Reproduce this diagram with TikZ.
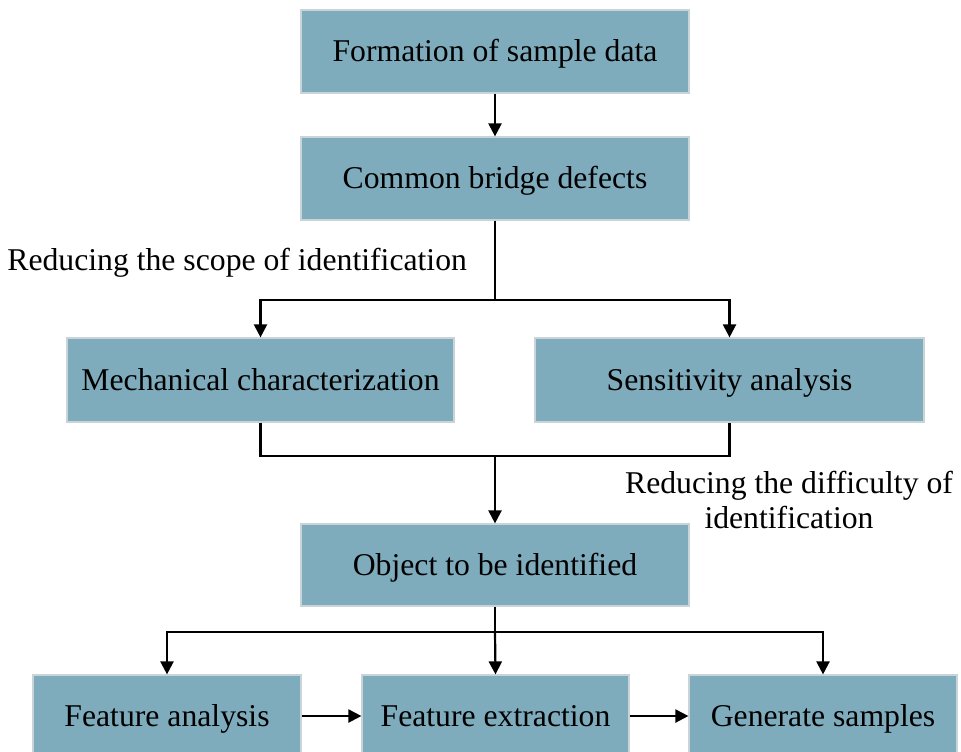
\documentclass[tikz,border=0pt]{standalone}
\usepackage{fontspec}
\setmainfont{Liberation Serif}
\usetikzlibrary{arrows.meta}
\definecolor{boxblue}{RGB}{126,172,189}
\definecolor{boxedge}{RGB}{200,212,216}
\begin{document}
\begin{tikzpicture}[x=0.5pt,y=-0.5pt,
  every node/.style={font=\fontsize{15.85}{19}\selectfont},
  blockbox/.style={draw=boxedge,line width=0.6pt,fill=boxblue,inner sep=0pt,anchor=center,text height=11.9pt,text depth=1.6pt},
  wideblock/.style={blockbox,minimum width=194pt,minimum height=41.5pt},
  smallblock/.style={blockbox,minimum width=134pt,minimum height=41pt},
  conn/.style={line width=1.1pt,black},
  arr/.style={conn,-{Triangle[length=6.5pt,width=6.5pt]}},
  lbl/.style={inner sep=0pt}
]
\useasboundingbox (0,0) rectangle (961,751);
\node[wideblock] (f) at (495,51.5) {Formation of sample data};
\node[wideblock] (c) at (495,178.5) {Common bridge defects};
\node[blockbox,minimum width=193.5pt,minimum height=42pt] (m) at (260.5,380) {Mechanical characterization};
\node[blockbox,minimum width=194.5pt,minimum height=42pt] (s) at (729.5,380) {Sensitivity analysis};
\node[blockbox,minimum width=194pt,minimum height=41pt] (o) at (495,565) {Object to be identified};
\node[smallblock] (fa) at (167,716) {Feature analysis};
\node[smallblock,minimum width=133.5pt] (fe) at (495.5,716) {Feature extraction};
\node[smallblock] (gs) at (823,716) {Generate samples};

\node[lbl,anchor=west] (l1) at (7,263) {Reducing the scope of identification};
\node[lbl,align=center,font=\fontsize{15.85}{17.5}\selectfont] (l2) at (789,500) {Reducing the difficulty of\\identification};

\coordinate (j1) at (495,300);
\coordinate (j2) at (495,456);
\coordinate (j3) at (495,632);

\draw[arr] (f.south) -- (c.north);
\draw[conn] (c.south) -- (j1);
\draw[arr] (j1) -| (m.north);
\draw[arr] (j1) -| (s.north);
\draw[conn] (m.south) |- (j2);
\draw[conn] (s.south) |- (j2);
\draw[arr] (j2) -- (o.north);
\draw[conn] (o.south) -- (j3);
\draw[arr] (j3) -| (fa.north);
\draw[arr] (j3) -- (fe.north);
\draw[arr] (j3) -| (gs.north);
\draw[arr] (fa.east) -- (fe.west);
\draw[arr] (fe.east) -- (gs.west);
\end{tikzpicture}
\end{document}
